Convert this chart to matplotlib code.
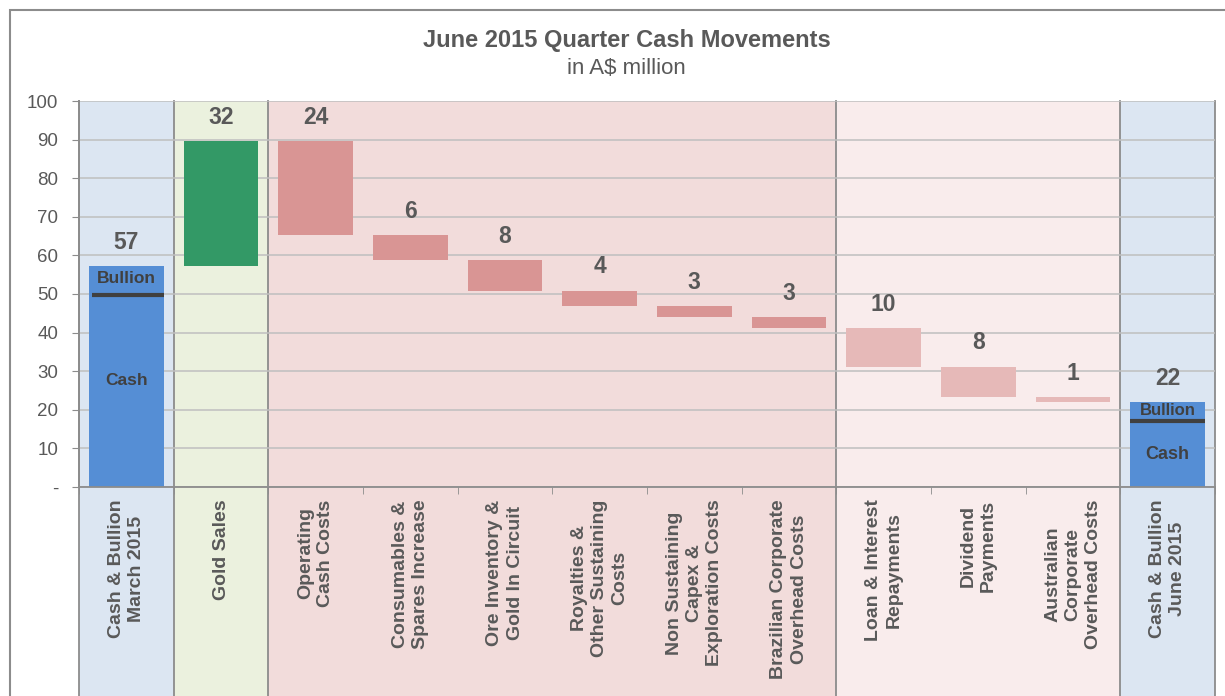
import numpy as np
import matplotlib
matplotlib.use("Agg")
import matplotlib.pyplot as plt
from matplotlib.patches import Rectangle

plt.rcParams['font.family'] = ['Liberation Sans', 'DejaVu Sans']

# data (A$ million)
categories = ["Cash & Bullion\nMarch 2015", "Gold Sales", "Operating\nCash Costs",
              "Consumables &\nSpares Increase", "Ore Inventory &\nGold In Circuit",
              "Royalties &\nOther Sustaining\nCosts", "Non Sustaining\nCapex &\nExploration Costs",
              "Brazilian Corporate\nOverhead Costs", "Loan & Interest\nRepayments",
              "Dividend\nPayments", "Australian\nCorporate\nOverhead Costs",
              "Cash & Bullion\nJune 2015"]
start_cash = 49.8
start_bullion = 7.5
flows = [32.4, -24.4, -6.4, -8.0, -4.0, -2.8, -3.0, -9.9, -7.9, -1.4]
end_cash = 17.0
groups = ["total", "gain", "cost", "cost", "cost", "cost", "cost", "cost",
          "other", "other", "other", "total"]

bar_col = {"total": "#558ED5", "gain": "#339966", "cost": "#D99594", "other": "#E6B9B8"}
bg_col = {"total": "#DCE6F2", "gain": "#EBF1DE", "cost": "#F2DCDB", "other": "#F9ECEC"}
txt = "#595959"

fig = plt.figure(figsize=(12.25, 6.96), dpi=100)
ax = fig.add_axes([79/1225, 209/696, 1136/1225, 386/696])
ax.set_xlim(-0.5, 11.5)
ax.set_ylim(0, 100)

# outer frame
fig.patches.append(Rectangle((10/1225, -0.1), 1.2, 1.1 - 10/696, transform=fig.transFigure,
                             fill=False, edgecolor="#8C8C8C", lw=1.5))

fig.text(627/1225, 1 - 41/696, "June 2015 Quarter Cash Movements", ha="center", va="center",
         fontsize=17, fontweight="bold", color=txt)
fig.text(626/1225, 1 - 68/696, "in A$ million", ha="center", va="center",
         fontsize=16, color=txt)

# group background bands, running down through the label area
ext = -209/386 - 0.05
i = 0
while i < len(groups):
    j = i
    while j + 1 < len(groups) and groups[j + 1] == groups[i]:
        j += 1
    ax.axvspan(i - 0.5, j + 0.5, ymin=ext, ymax=1, color=bg_col[groups[i]], lw=0,
               clip_on=False, zorder=0.1)
    ax.axvline(i - 0.5, ymin=ext, ymax=1, color="#8C8C8C", lw=1.3, clip_on=False, zorder=0.3)
    i = j + 1
ax.axvline(11.5, ymin=ext, ymax=1, color="#8C8C8C", lw=1.3, clip_on=False, zorder=0.3)

ax.set_axisbelow(True)
ax.grid(axis="y", color="#BFBFBF", lw=1.1)
ax.set_yticks(np.arange(0, 101, 10))
ax.set_yticklabels(["-"] + [str(v) for v in range(10, 101, 10)])

w = 0.79
labfont = dict(ha="center", va="center", fontsize=16.5, fontweight="bold", color=txt)

# opening balance
start_total = start_cash + start_bullion
ax.bar(0, start_total, width=w, color=bar_col["total"], zorder=2)
ax.hlines(start_cash, -w/2 + 0.03, w/2, color="#404040", lw=3, zorder=3)
ax.annotate(f"{start_total:.0f}", (0, start_total), xytext=(0, 17), textcoords="offset points", **labfont)
ax.text(0, (start_cash + start_total) / 2 + 0.5, "Bullion", ha="center", va="center",
        fontsize=12.5, fontweight="bold", color="#404040", zorder=4)
ax.text(0, 27.5, "Cash", ha="center", va="center", fontsize=12.5, fontweight="bold",
        color="#404040", zorder=4)

# movements
level = start_total
for k, f in enumerate(flows):
    x = k + 1
    lo, hi = (level, level + f) if f > 0 else (level + f, level)
    ax.bar(x, hi - lo, bottom=lo, width=w, color=bar_col[groups[x]], zorder=2)
    ax.annotate(f"{abs(f):.0f}", (x, hi), xytext=(0, 17), textcoords="offset points", **labfont)
    level += f

# closing balance
end_total = level
ax.bar(11, end_total, width=w, color=bar_col["total"], zorder=2)
ax.hlines(end_cash, 11 - w/2, 11 + w/2, color="#404040", lw=3, zorder=3)
ax.annotate(f"{end_total:.0f}", (11, end_total), xytext=(0, 17), textcoords="offset points", **labfont)
ax.text(11, (end_cash + end_total) / 2 + 0.3, "Bullion", ha="center", va="center",
        fontsize=12, fontweight="bold", color="#404040", zorder=4)
ax.text(11, end_cash / 2, "Cash", ha="center", va="center", fontsize=13, fontweight="bold",
        color="#404040", zorder=4)

# axes styling
for s in ["top", "right"]:
    ax.spines[s].set_visible(False)
ax.spines["left"].set_color("#8C8C8C")
ax.spines["bottom"].set_color("#8C8C8C")
ax.spines["left"].set_linewidth(1.3)
ax.spines["bottom"].set_linewidth(1.3)
ax.tick_params(axis="y", length=5, color="#8C8C8C", labelsize=13.5, labelcolor=txt, pad=10)
ax.set_xticks(range(len(categories)))
ax.set_xticklabels(categories, rotation=90, ha="center", va="top", multialignment="center",
                   fontsize=14, fontweight="bold", color=txt, linespacing=1.25)
ax.tick_params(axis="x", which="major", length=0, pad=9)
ax.set_xticks(np.arange(-0.5, 12, 1), minor=True)
ax.tick_params(axis="x", which="minor", length=5, color="#8C8C8C")

fig.savefig("out.png", dpi=100)
